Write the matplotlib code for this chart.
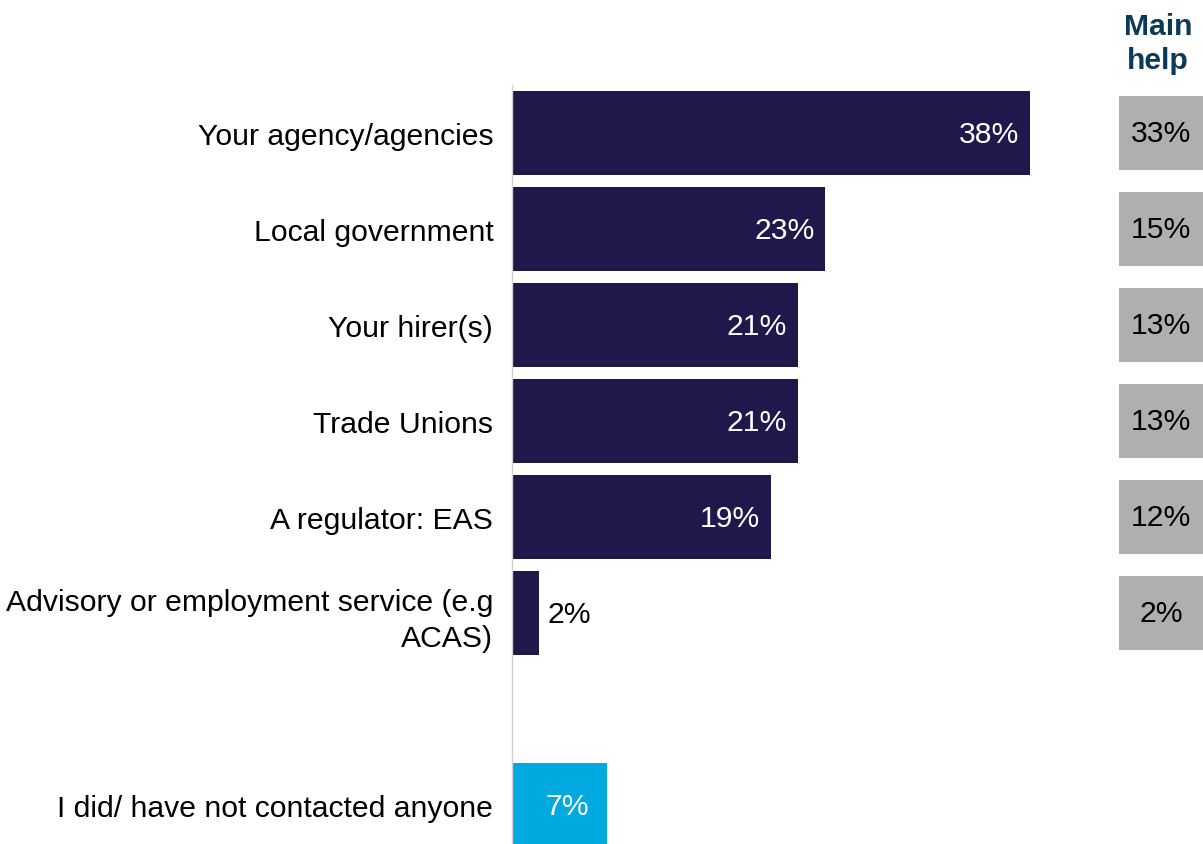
import matplotlib as mpl
from matplotlib import pyplot as plt

CATEGORIES = [
    "Your agency/agencies",
    "Local government",
    "Your hirer(s)",
    "Trade Unions",
    "A regulator: EAS",
    "Advisory or employment service (e.g\nACAS)",
    "",
    "I did/ have not contacted anyone",
]
ANY_HELP = [38, 23, 21, 21, 19, 2, None, 7]
MAIN_HELP = [33, 15, 13, 13, 12, 2]

NAVY = "#20174a"
CYAN = "#00a9e0"
GREY = "#afafaf"
HEADER = "#0b3a56"
FONTSIZE = 21.7

mpl.rcParams["font.family"] = ["Liberation Sans", "DejaVu Sans"]

W, H = 1203, 845
SLOT = 96.0
FIRST_CENTER = 134.0
PX_PER_PCT = 13.63

fig = plt.figure(figsize=(W / 100, H / 100), dpi=100)

# main bar axes: starts at the baseline x=512 and spans to the right edge
x0 = 512
ax = fig.add_axes([x0 / W, 0, (W - x0) / W, 1])
ymin = -FIRST_CENTER / SLOT
ymax = ymin + H / SLOT
ax.set_ylim(ymax, ymin)
ax.set_xlim(0, (W - x0) / PX_PER_PCT)

for i, v in enumerate(ANY_HELP):
    if v is None:
        continue
    color = CYAN if i == len(ANY_HELP) - 1 else NAVY
    ax.barh(i, v, height=0.875, color=color, zorder=2)
    if v >= 5:
        pad = -13 if i == len(ANY_HELP) - 1 else -8
        ax.annotate(f"{v}%", (v, i), xytext=(pad, -1), textcoords="offset points",
                    ha="right", va="center", color="white", fontsize=FONTSIZE)
    else:
        ax.annotate(f"{v}%", (v, i), xytext=(6, -1), textcoords="offset points",
                    ha="left", va="center", color="black", fontsize=FONTSIZE)

ax.set_yticks(range(len(CATEGORIES)))
ax.set_yticklabels(CATEGORIES, fontsize=FONTSIZE, ha="right",
                   multialignment="right", linespacing=1.38)
ax.tick_params(axis="y", length=0, pad=13.5)
ax.tick_params(axis="x", bottom=False, labelbottom=False)
for side in ["top", "right", "bottom"]:
    ax.spines[side].set_visible(False)
ax.spines["left"].set_color("#d0d0d0")
ax.spines["left"].set_linewidth(1)
ax.spines["left"].set_bounds(-0.5, ymax)
ax.patch.set_alpha(0)

# side column with the main-help shares
bx0 = 1119
bax = fig.add_axes([bx0 / W, 0, (W - bx0) / W, 1])
bax.set_ylim(ymax, ymin)
bax.set_xlim(0, 1)
for i, v in enumerate(MAIN_HELP):
    bax.barh(i, 1, height=0.77, color=GREY)
    bax.text(0.5, i, f"{v}%", ha="center", va="center", color="black", fontsize=FONTSIZE)
bax.axis("off")

fig.text(1158 / W, 1 - 44 / H, "Main\nhelp", ha="center", va="center",
         fontsize=FONTSIZE, fontweight="bold", color=HEADER, linespacing=1.27)

fig.savefig("out.png", dpi=100)
